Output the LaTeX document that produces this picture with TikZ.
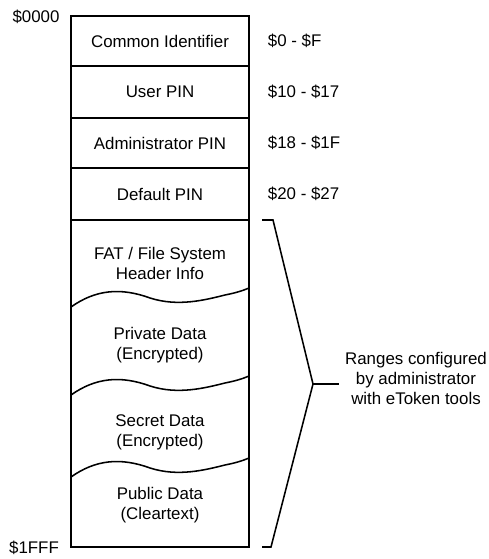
\documentclass[tikz,border=0pt]{standalone}
\usepackage{fontspec}
\setmainfont{Liberation Sans}
\usetikzlibrary{calc}

\begin{document}
\begin{tikzpicture}[x=0.025cm, y=-0.025cm, font=\fontsize{12}{14.2}\selectfont]
\useasboundingbox (0,0) rectangle (488,559);

\coordinate (TL) at (71,16);
\coordinate (BR) at (249,547);
\draw[black, line width=1.4pt] (TL) rectangle (BR);

\foreach \y in {66, 118, 168, 220} {
  \draw[black, line width=1.4pt] (71,\y) -- (249,\y); }

\foreach \y/\txt/\rng [count=\i] in {41/Common Identifier/\$0 - \$F, 92/User PIN/\$10 - \$17,
    143/Administrator PIN/\$18 - \$1F, 194/Default PIN/\$20 - \$27} {
  \node (row\i) at (160,\y) {\txt};
  \node[anchor=west] (adr\i) at (263,\y) {\rng}; }

\node (start) at (36,17) {\$0000};
\node (end) at (34,548) {\$1FFF};

% ragged borders between the data areas
\foreach \dy in {0, 88, 170} {
  \draw[black, line width=1.1pt] (71,307+\dy) .. controls (95,290+\dy) and (120,287+\dy) .. (150,298+\dy)
    .. controls (178,307+\dy) and (205,300+\dy) .. (225,295+\dy)
    .. controls (235,293+\dy) and (242,291+\dy) .. (249,288+\dy); }

\node[align=center] (fat) at (160,263) {FAT / File System\\Header Info};
\node[align=center] (priv) at (160,345) {Private Data\\(Encrypted)};
\node[align=center] (secr) at (160,432) {Secret Data\\(Encrypted)};
\node[align=center] (publ) at (160,505) {Public Data\\(Cleartext)};

\coordinate (btop) at (262,220);
\coordinate (bbot) at (262,547);
\coordinate (tip) at (313,384);
\coordinate (tick) at (339,384);
\draw[black, line width=1.1pt] (btop) -- ++(11,0) -- (tip) -- (271,547) -- (bbot);
\draw[black, line width=1.1pt] (tip) -- (tick);
\node[align=center] (note) at (416,378) {Ranges configured\\by administrator\\with eToken tools};

\end{tikzpicture}
\end{document}
